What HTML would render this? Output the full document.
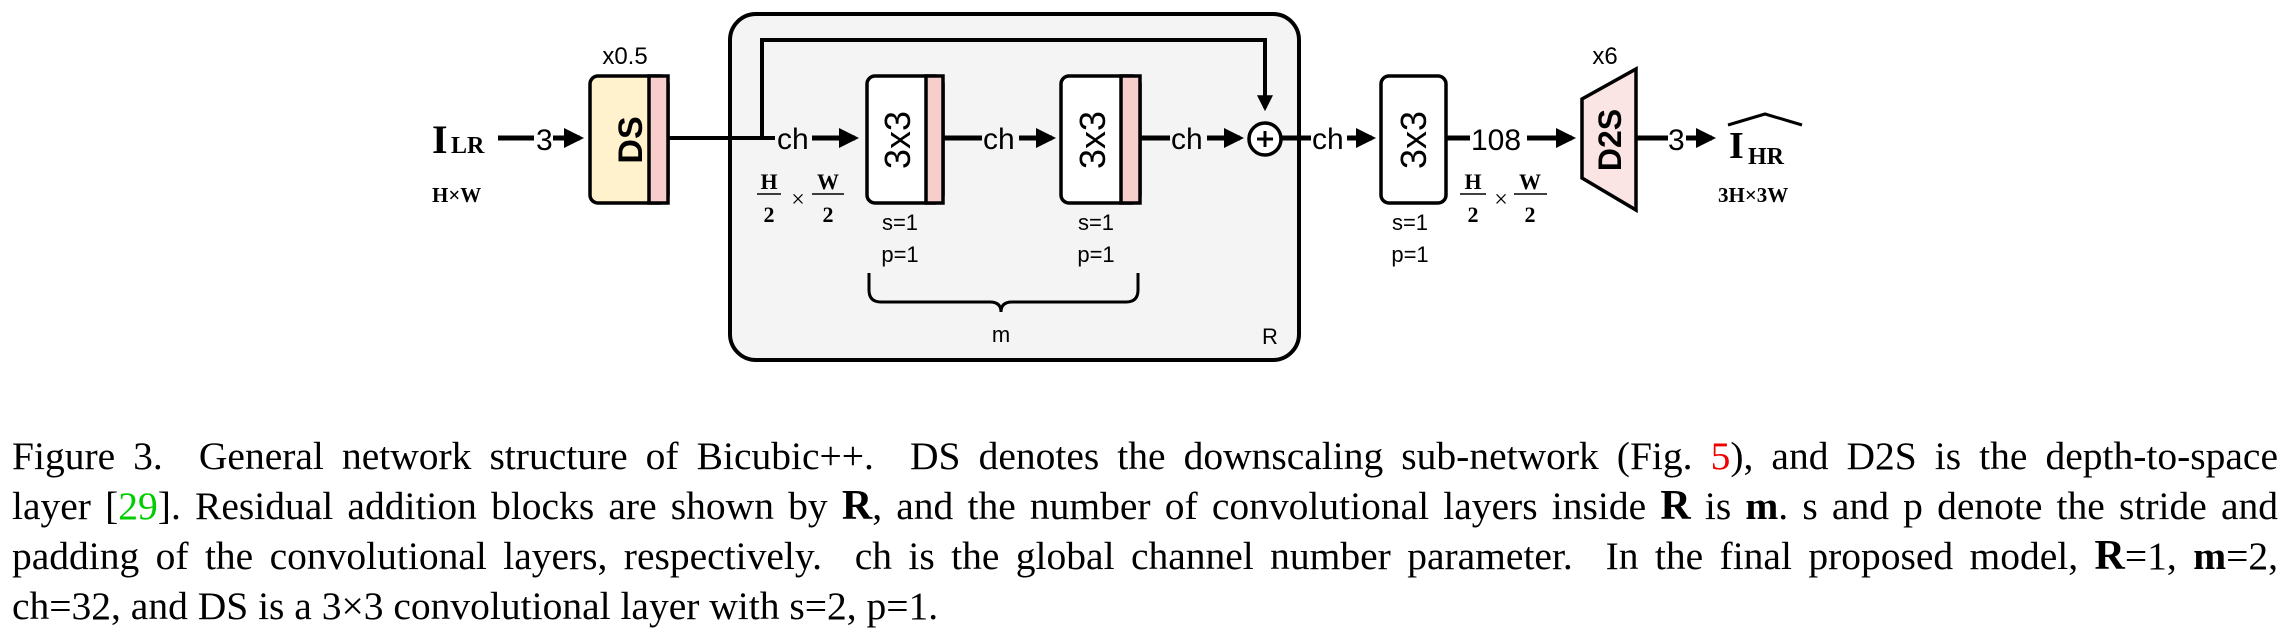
<!DOCTYPE html>
<html><head><meta charset="utf-8"><style>
html,body{margin:0;padding:0;background:#fff;}
body{width:2289px;height:635px;position:relative;overflow:hidden;}
svg{position:absolute;left:0;top:0;}
.cap{position:absolute;left:12px;top:431px;width:2266px;font-family:"Liberation Serif",serif;font-size:39.5px;line-height:50px;color:#000;}
.cap div{text-align:justify;text-align-last:justify;height:50px;overflow:visible;}
.cap div.last{text-align-last:left;}
.s{font-family:"Liberation Sans",sans-serif;fill:#000;}
.b{font-family:"Liberation Serif",serif;font-weight:bold;fill:#000;}
</style></head><body>
<svg width="2289" height="380" viewBox="0 0 2289 380">
<defs><marker id="a" markerWidth="4" markerHeight="4" refX="3.2" refY="2" orient="auto" markerUnits="strokeWidth"><path d="M0,0 L4,2 L0,4 z" fill="#000"/></marker></defs>
<rect x="730" y="14" width="569" height="346" rx="26" fill="#f4f4f4" stroke="#000" stroke-width="4"/>
<polyline points="762,138 762,40 1265,40 1265,108" fill="none" stroke="#000" stroke-width="4" marker-end="url(#a)"/>
<text x="432" y="153" class="b" font-size="40">I</text>
<text x="451" y="153" class="b" font-size="24">LR</text>
<text x="432" y="202" class="b" font-size="21">H×W</text>
<line x1="498" y1="138" x2="534" y2="138" stroke="#000" stroke-width="5"/>
<text x="536" y="150" class="s" font-size="30">3</text>
<line x1="553" y1="138" x2="580" y2="138" stroke="#000" stroke-width="5" marker-end="url(#a)"/>
<rect x="590" y="76" width="78" height="127" rx="8" fill="#fff2cc" stroke="#000" stroke-width="3.5"/>
<rect x="649" y="76" width="19" height="127" fill="#f8cecc" stroke="#000" stroke-width="3.5"/>
<text transform="translate(630,140) rotate(-90)" text-anchor="middle" class="s" font-size="34" font-weight="bold" dy="12">DS</text>
<text x="625" y="64" text-anchor="middle" class="s" font-size="24">x0.5</text>
<line x1="668" y1="138" x2="775" y2="138" stroke="#000" stroke-width="4"/>
<text x="777" y="149" class="s" font-size="30">ch</text>
<line x1="812" y1="138" x2="855" y2="138" stroke="#000" stroke-width="5" marker-end="url(#a)"/>
<rect x="867" y="76" width="76" height="127" rx="8" fill="#fff" stroke="#000" stroke-width="3.5"/>
<rect x="926" y="76" width="17" height="127" fill="#f8cecc" stroke="#000" stroke-width="3.5"/>
<text transform="translate(897,140) rotate(-90)" text-anchor="middle" class="s" font-size="36" dy="13">3x3</text>
<line x1="943" y1="138" x2="982" y2="138" stroke="#000" stroke-width="5"/>
<text x="983" y="149" class="s" font-size="30">ch</text>
<line x1="1019" y1="138" x2="1052" y2="138" stroke="#000" stroke-width="5" marker-end="url(#a)"/>
<rect x="1061" y="76" width="79" height="127" rx="8" fill="#fff" stroke="#000" stroke-width="3.5"/>
<rect x="1121" y="76" width="19" height="127" fill="#f8cecc" stroke="#000" stroke-width="3.5"/>
<text transform="translate(1092,140) rotate(-90)" text-anchor="middle" class="s" font-size="36" dy="13">3x3</text>
<line x1="1140" y1="138" x2="1170" y2="138" stroke="#000" stroke-width="5"/>
<text x="1171" y="149" class="s" font-size="30">ch</text>
<line x1="1207" y1="138" x2="1240" y2="138" stroke="#000" stroke-width="5" marker-end="url(#a)"/>
<circle cx="1265" cy="139" r="16" fill="#fff" stroke="#000" stroke-width="3.5"/>
<line x1="1257" y1="139" x2="1273" y2="139" stroke="#000" stroke-width="3"/>
<line x1="1265" y1="131" x2="1265" y2="147" stroke="#000" stroke-width="3"/>
<line x1="1281" y1="138" x2="1311" y2="138" stroke="#000" stroke-width="5"/>
<text x="1312" y="149" class="s" font-size="30">ch</text>
<line x1="1347" y1="138" x2="1372" y2="138" stroke="#000" stroke-width="5" marker-end="url(#a)"/>
<rect x="1381" y="76" width="65" height="127" rx="8" fill="#fff" stroke="#000" stroke-width="3.5"/>
<text transform="translate(1413,140) rotate(-90)" text-anchor="middle" class="s" font-size="36" dy="13">3x3</text>
<line x1="1446" y1="138" x2="1470" y2="138" stroke="#000" stroke-width="5"/>
<text x="1471" y="150" class="s" font-size="30">108</text>
<line x1="1527" y1="138" x2="1572" y2="138" stroke="#000" stroke-width="5" marker-end="url(#a)"/>
<polygon points="1582,99 1636,69 1636,210 1582,178" fill="#fae5e4" stroke="#000" stroke-width="3.5"/>
<text transform="translate(1610,140) rotate(-90)" text-anchor="middle" class="s" font-size="32" font-weight="bold" dy="11">D2S</text>
<text x="1605" y="64" text-anchor="middle" class="s" font-size="24">x6</text>
<line x1="1636" y1="138" x2="1668" y2="138" stroke="#000" stroke-width="5"/>
<text x="1668" y="150" class="s" font-size="30">3</text>
<line x1="1686" y1="138" x2="1712" y2="138" stroke="#000" stroke-width="5" marker-end="url(#a)"/>
<polyline points="1728,125 1765,114 1802,125" fill="none" stroke="#000" stroke-width="3"/>
<text x="1729" y="158" class="b" font-size="38">I</text>
<text x="1748" y="164" class="b" font-size="24">HR</text>
<text x="1718" y="202" class="b" font-size="21">3H×3W</text>
<g class="b" font-size="22">
<text x="769" y="189" text-anchor="middle">H</text><line x1="757" y1="194" x2="781" y2="194" stroke="#000" stroke-width="1.5"/><text x="769" y="222" text-anchor="middle">2</text>
<text x="798" y="207" text-anchor="middle" font-weight="normal" font-size="24">×</text>
<text x="828" y="189" text-anchor="middle">W</text><line x1="812" y1="194" x2="844" y2="194" stroke="#000" stroke-width="1.5"/><text x="828" y="222" text-anchor="middle">2</text>
<text x="1473" y="189" text-anchor="middle">H</text><line x1="1460" y1="194" x2="1486" y2="194" stroke="#000" stroke-width="1.5"/><text x="1473" y="222" text-anchor="middle">2</text>
<text x="1501" y="207" text-anchor="middle" font-weight="normal" font-size="24">×</text>
<text x="1530" y="189" text-anchor="middle">W</text><line x1="1514" y1="194" x2="1547" y2="194" stroke="#000" stroke-width="1.5"/><text x="1530" y="222" text-anchor="middle">2</text>
</g>
<g class="s" font-size="22" text-anchor="middle">
<text x="900" y="230">s=1</text><text x="900" y="262">p=1</text>
<text x="1096" y="230">s=1</text><text x="1096" y="262">p=1</text>
<text x="1410" y="230">s=1</text><text x="1410" y="262">p=1</text>
<text x="1001" y="342">m</text>
<text x="1270" y="344">R</text>
</g>
<path d="M869,273 L869,290 Q869,302 881,302 L990,302 Q1001,302 1001,312 Q1001,302 1012,302 L1126,302 Q1138,302 1138,290 L1138,273" fill="none" stroke="#000" stroke-width="3"/>
</svg>
<div class="cap">
<div>Figure 3.&nbsp; General network structure of Bicubic++.&nbsp; DS denotes the downscaling sub-network (Fig. <span style="color:#e00">5</span>), and D2S is the depth-to-space</div>
<div>layer [<span style="color:#0c0">29</span>]. Residual addition blocks are shown by <b style="font-size:42px">R</b>, and the number of convolutional layers inside <b style="font-size:42px">R</b> is <b>m</b>. s and p denote the stride and</div>
<div>padding of the convolutional layers, respectively.&nbsp; ch is the global channel number parameter.&nbsp; In the final proposed model, <b style="font-size:42px">R</b>=1, <b>m</b>=2,</div>
<div class="last">ch=32, and DS is a 3×3 convolutional layer with s=2, p=1.</div>
</div>
</body></html>
